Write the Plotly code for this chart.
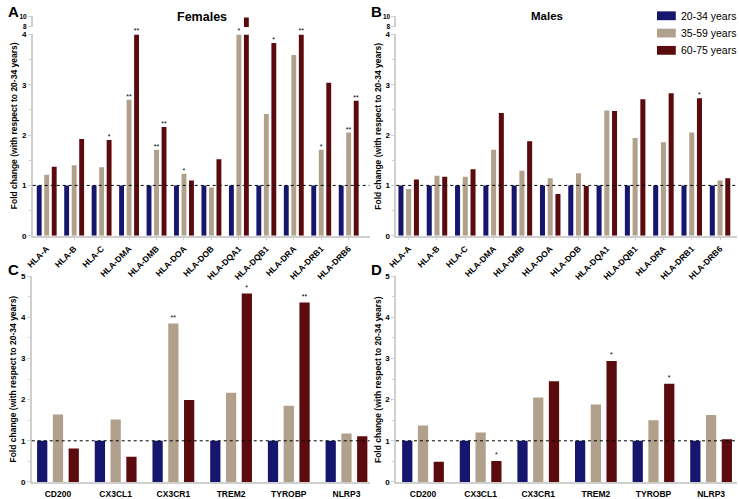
import plotly.graph_objects as go

# ---------------- data ----------------
series_names = ["20-34 years", "35-59 years", "60-75 years"]
series_colors = ["#16166e", "#b1a08b", "#5b0b0e"]

hla_genes = ["HLA-A", "HLA-B", "HLA-C", "HLA-DMA", "HLA-DMB", "HLA-DOA",
             "HLA-DOB", "HLA-DQA1", "HLA-DQB1", "HLA-DRA", "HLA-DRB1", "HLA-DRB6"]
fem_hla_20_34 = [1, 1, 1, 1, 1, 1, 1, 1, 1, 1, 1, 1]
fem_hla_35_59 = [1.21, 1.40, 1.36, 2.70, 1.71, 1.23, 0.96, 4.0, 2.42, 3.59, 1.71, 2.05]
fem_hla_60_75 = [1.37, 1.92, 1.90, 4.0, 2.16, 1.10, 1.52, 9.8, 3.83, 4.0, 3.04, 2.68]
fem_hla_sig_35_59 = ["", "", "", "**", "**", "*", "", "*", "", "", "*", "**"]
fem_hla_sig_60_75 = ["", "", "*", "**", "**", "", "", "", "*", "**", "", "**"]

male_hla_20_34 = [1, 1, 1, 1, 1, 1, 1, 1, 1, 1, 1, 1]
male_hla_35_59 = [0.93, 1.19, 1.17, 1.71, 1.29, 1.14, 1.24, 2.49, 1.94, 1.86, 2.05, 1.10]
male_hla_60_75 = [1.12, 1.17, 1.32, 2.44, 1.88, 0.83, 0.99, 2.48, 2.71, 2.83, 2.73, 1.14]
male_hla_sig_35_59 = ["", "", "", "", "", "", "", "", "", "", "", ""]
male_hla_sig_60_75 = ["", "", "", "", "", "", "", "", "", "", "*", ""]

micro_genes = ["CD200", "CX3CL1", "CX3CR1", "TREM2", "TYROBP", "NLRP3"]
fem_mic_20_34 = [1, 1, 1, 1, 1, 1]
fem_mic_35_59 = [1.64, 1.52, 3.85, 2.17, 1.85, 1.18]
fem_mic_60_75 = [0.81, 0.61, 1.99, 4.58, 4.36, 1.11]
fem_mic_sig_35_59 = ["", "", "**", "", "", ""]
fem_mic_sig_60_75 = ["", "", "", "*", "**", ""]

male_mic_20_34 = [1, 1, 1, 1, 1, 1]
male_mic_35_59 = [1.37, 1.20, 2.05, 1.88, 1.50, 1.63]
male_mic_60_75 = [0.49, 0.51, 2.45, 2.94, 2.39, 1.04]
male_mic_sig_35_59 = ["", "", "", "", "", ""]
male_mic_sig_60_75 = ["", "*", "", "*", "*", ""]

y_title = "Fold change (with respect to 20-34 years)"
panel_titles = {"A": "Females", "B": "Males"}

# ---------------- figure ----------------
W, H = 739, 499
FONT = "Liberation Sans, Arial, sans-serif"
AX_GRAY = "#cfcfcf"

def px_x(p):
    return p / W

def px_y(p):
    return 1 - p / H

fig = go.Figure()

def add_panel(xa, ya, genes, vals, sigs, top_ya=None, cap=None):
    for i, (name, color) in enumerate(zip(series_names, series_colors)):
        v = vals[i]
        main_v = [min(a, cap) for a in v] if cap is not None else v
        fig.add_trace(go.Bar(
            x=genes, y=main_v, name=name, marker=dict(color=color, line=dict(width=0)),
            xaxis=xa, yaxis=ya, showlegend=False,
            text=sigs[i], textposition="outside", cliponaxis=False,
            constraintext="none",
            textfont=dict(family=FONT, size=7, color="black"),
            hoverinfo="skip",
        ))
    if top_ya is not None:
        for i, (name, color) in enumerate(zip(series_names, series_colors)):
            fig.add_trace(go.Bar(
                x=genes, y=vals[i], name=name, marker=dict(color=color, line=dict(width=0)),
                xaxis=xa, yaxis=top_ya, showlegend=False, hoverinfo="skip",
            ))

no_sig = [""] * 12
no_sig6 = [""] * 6
add_panel("x", "y", hla_genes, [fem_hla_20_34, fem_hla_35_59, fem_hla_60_75],
          [no_sig, fem_hla_sig_35_59, fem_hla_sig_60_75], top_ya="y5", cap=4)
add_panel("x2", "y2", hla_genes, [male_hla_20_34, male_hla_35_59, male_hla_60_75],
          [no_sig, male_hla_sig_35_59, male_hla_sig_60_75], top_ya="y6", cap=4)
add_panel("x3", "y3", micro_genes, [fem_mic_20_34, fem_mic_35_59, fem_mic_60_75],
          [no_sig6, fem_mic_sig_35_59, fem_mic_sig_60_75])
add_panel("x4", "y4", micro_genes, [male_mic_20_34, male_mic_35_59, male_mic_60_75],
          [no_sig6, male_mic_sig_35_59, male_mic_sig_60_75])

tickfont = dict(family=FONT, size=8, color="black", weight="bold")

def xax(domain, anchor, rng, angle, ticklen=3, size=8, standoff=None):
    d = dict(domain=domain, anchor=anchor, type="category", range=rng,
             showline=True, linecolor=AX_GRAY, linewidth=1.5,
             ticks="outside" if ticklen else "", ticklen=ticklen, tickcolor=AX_GRAY, tickwidth=1,
             tickangle=angle, tickfont=dict(tickfont, size=size), showgrid=False, zeroline=False,
             fixedrange=True)
    if standoff is not None:
        d["ticklabelstandoff"] = standoff
    return d

def yax(domain, anchor, rng, dtick, tickvals=None, minor=True, size=8):
    d = dict(domain=domain, anchor=anchor, range=rng,
             showline=True, linecolor=AX_GRAY, linewidth=1.5,
             ticks="outside", ticklen=3, tickcolor=AX_GRAY, tickwidth=1,
             tickfont=dict(tickfont, size=size), showgrid=False, zeroline=False, fixedrange=True)
    if tickvals is not None:
        d["tickmode"] = "array"
        d["tickvals"] = tickvals
    else:
        d["dtick"] = dtick
        d["tick0"] = 0
    if minor:
        d["minor"] = dict(dtick=0.5, tick0=0, ticks="outside", ticklen=2,
                          tickcolor=AX_GRAY, tickwidth=1)
    return d

top_main = [px_y(236), px_y(31)]
top_seg = [px_y(23.3), px_y(12.7)]
bot_dom = [px_y(486.7), px_y(277.3)]

fig.update_layout(
    width=W, height=H,
    margin=dict(l=0, r=0, t=0, b=0),
    paper_bgcolor="white", plot_bgcolor="white",
    barmode="group", bargap=0.18, bargroupgap=0.35,
    font=dict(family=FONT, color="black"),
    xaxis=xax([px_x(24), px_x(365)], "y", [-0.51, 11.76], -45, size=8.5),
    yaxis=yax(top_main, "x", [0, 4], 1),
    yaxis5=yax(top_seg, "x", [8, 10], None, tickvals=[8, 10], minor=False, size=6.5),
    xaxis2=xax([px_x(392), px_x(737)], "y2", [-0.44, 11.6], -45, size=8.5),
    yaxis2=yax(top_main, "x2", [0, 4], 1),
    yaxis6=yax(top_seg, "x2", [8, 10], None, tickvals=[8, 10], minor=False, size=6.5),
    xaxis3=xax([px_x(23), px_x(365)], "y3", [-0.455, 5.40], 0, ticklen=0, size=8.5, standoff=3),
    yaxis3=yax(bot_dom, "x3", [0, 5], 1),
    xaxis4=xax([px_x(391.7), px_x(737)], "y4", [-0.47, 5.45], 0, ticklen=0, size=8.5, standoff=3),
    yaxis4=yax(bot_dom, "x4", [0, 5], 1),
    showlegend=False,
)

# dotted reference line at fold change = 1
shapes = []
for xa, ya in [("x", "y"), ("x2", "y2"), ("x3", "y3"), ("x4", "y4")]:
    shapes.append(dict(type="line", xref=f"{xa} domain", yref=ya, x0=0, x1=1, y0=1, y1=1,
                       line=dict(color="black", width=1, dash="dot"), layer="above"))

# manual legend
ann = []
for i, (name, color) in enumerate(zip(series_names, series_colors)):
    yc = 12 + i * 17.6
    shapes.append(dict(type="rect", xref="paper", yref="paper",
                       x0=px_x(656), x1=px_x(675), y0=px_y(yc + 4.5), y1=px_y(yc - 4.5),
                       fillcolor=color, line=dict(width=0)))
    ann.append(dict(text=name, xref="paper", yref="paper", x=px_x(678), y=px_y(yc),
                    xanchor="left", yanchor="middle", showarrow=False,
                    font=dict(family=FONT, size=10.5, color="black")))
fig.update_layout(shapes=shapes)

# panel letters
for letter, (lx, ly) in {"A": (-3, 8), "B": (364, 8), "C": (-3, 270), "D": (364, 270)}.items():
    ann.append(dict(text=f"<b>{letter}</b>", xref="paper", yref="paper", x=px_x(lx), y=px_y(ly),
                    xanchor="left", yanchor="middle", showarrow=False,
                    font=dict(family=FONT, size=15, color="black")))

# panel titles
ann.append(dict(text=f"<b>{panel_titles['A']}</b>", xref="paper", yref="paper", x=px_x(195), y=px_y(13),
                xanchor="center", yanchor="middle", showarrow=False,
                font=dict(family=FONT, size=12.5, color="black")))
ann.append(dict(text=f"<b>{panel_titles['B']}</b>", xref="paper", yref="paper", x=px_x(545), y=px_y(12),
                xanchor="center", yanchor="middle", showarrow=False,
                font=dict(family=FONT, size=11.5, color="black")))

# y-axis titles
for xp, yc in [(4.5, 124), (373.5, 124), (4.5, 382), (373.5, 382)]:
    ann.append(dict(text=f"<b>{y_title}</b>", xref="paper", yref="paper", x=px_x(xp), y=px_y(yc),
                    xanchor="center", yanchor="middle", showarrow=False, textangle=-90,
                    font=dict(family=FONT, size=8.5, color="black")))

fig.update_layout(annotations=ann)

fig.write_html("out.html", config={"displayModeBar": False},
               post_script="document.body.style.margin='0px';document.body.style.padding='0px';")
